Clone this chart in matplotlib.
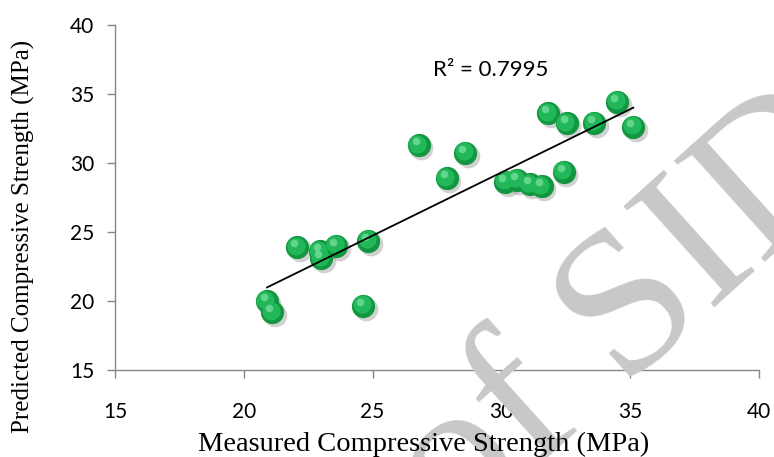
import numpy as np
import matplotlib
matplotlib.use("Agg")
import matplotlib.pyplot as plt
import matplotlib.transforms as mtransforms

# measured vs predicted compressive strength (MPa)
measured = [20.9, 21.1, 22.07, 22.95, 23.0, 23.58, 24.83, 24.64, 26.8, 27.87,
            28.6, 30.14, 30.59, 31.11, 31.56, 32.43, 31.82, 32.53, 33.6, 34.5, 35.12]
predicted = [20.0, 19.2, 23.9, 23.6, 23.1, 24.0, 24.35, 19.66, 31.3, 28.9,
             30.75, 28.64, 28.77, 28.46, 28.33, 29.37, 33.6, 32.88, 32.92, 34.44, 32.63]
r2_label = "R² = 0.7995"
ticks = [15, 20, 25, 30, 35, 40]

tick_font = "Lato"
label_font = "Liberation Serif"
axis_grey = "#868686"

fig = plt.figure(figsize=(7.74, 4.57), dpi=100)
ax = fig.add_axes([115 / 774, 1 - 370 / 457, (759 - 115) / 774, (370 - 25) / 457])

# watermark behind everything
fig.text(0.815, 0.31, "of SID", family=label_font, fontsize=150, color="#c8c8c8",
         rotation=42, ha="center", va="center", zorder=0)

x = np.array(measured)
y = np.array(predicted)

# "3D" sphere markers: shadow, body, highlight
shadow = mtransforms.offset_copy(ax.transData, fig=fig, x=2.5, y=-3, units="dots")
ax.scatter(x, y, s=290, color="#9a9a9a", alpha=0.45, lw=0, transform=shadow, zorder=2)
ax.scatter(x, y, s=280, color="#12963f", lw=0, zorder=3)
inner = mtransforms.offset_copy(ax.transData, fig=fig, x=-1.5, y=1.5, units="dots")
ax.scatter(x, y, s=170, color="#22b85a", lw=0, transform=inner, zorder=4)
spec = mtransforms.offset_copy(ax.transData, fig=fig, x=-3, y=4, units="dots")
ax.scatter(x, y, s=30, color="#8fe8ae", alpha=0.6, lw=0, transform=spec, zorder=5)

# linear trendline
k, b = np.polyfit(x, y, 1)
xl = np.array([x.min(), x.max()])
ax.plot(xl, k * xl + b, color="black", lw=1.3, zorder=6)

ax.text(0.584, 0.87, r2_label, transform=ax.transAxes, family=tick_font,
        fontsize=16, ha="center", va="center")

ax.set_xlim(15, 40)
ax.set_ylim(15, 40)
ax.set_xticks(ticks)
ax.set_yticks(ticks)
for sp in ["top", "right"]:
    ax.spines[sp].set_visible(False)
for sp in ["left", "bottom"]:
    ax.spines[sp].set_color(axis_grey)
    ax.spines[sp].set_linewidth(1.0)
ax.tick_params(axis="both", colors=axis_grey, labelcolor="black", length=6, width=1.0,
               labelsize=15)
ax.tick_params(axis="x", pad=17)
ax.tick_params(axis="y", pad=9)
for lab in ax.get_xticklabels() + ax.get_yticklabels():
    lab.set_family(tick_font)
ax.patch.set_alpha(0)

fig.text(424 / 774, 1 - 444 / 457, "Measured Compressive Strength (MPa)",
         family=label_font, fontsize=20.5, ha="center", va="center")
fig.text(23 / 774, 1 - 236 / 457, "Predicted Compressive Strength (MPa)",
         family=label_font, fontsize=18, ha="center", va="center", rotation=90)

fig.savefig("out.png", dpi=100)
